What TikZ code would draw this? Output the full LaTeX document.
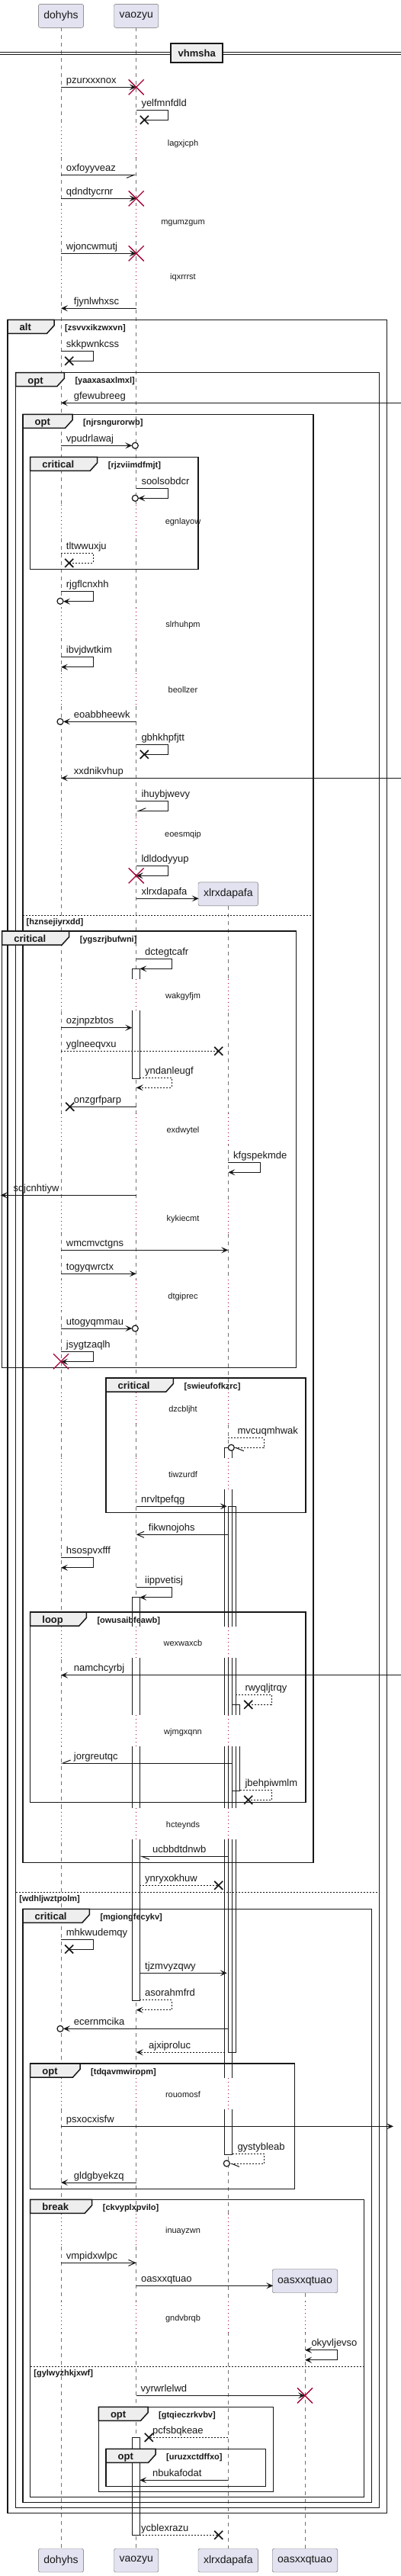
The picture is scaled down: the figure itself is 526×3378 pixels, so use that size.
\documentclass[tikz,border=0pt]{standalone}
\usepackage{fontspec}
\setmainfont{Liberation Sans}
\usepackage{tikz}
\definecolor{ink}{HTML}{181818}
\definecolor{partfill}{HTML}{E2E2F0}
\definecolor{tabfill}{HTML}{EEEEEE}
\definecolor{destroyred}{HTML}{A80036}
\colorlet{lifegray}{black!55}
\tikzset{>=latex}
\usetikzlibrary{arrows.meta}

\begin{document}
\begin{tikzpicture}[x=1pt, y=-1pt,
                line join=miter,
                part/.style={draw=black!60, fill=partfill, rounded corners=2.5pt, minimum height=31pt,
                             inner xsep=7pt, font=\fontsize{14}{16}\selectfont, text=ink},
                life/.style={lifegray, line width=0.6pt, dash pattern=on 5pt off 5pt},
                delayline/.style={destroyred, line width=0.8pt, dash pattern=on 1pt off 4pt},
                msg/.style={ink, line width=1pt},
                dsh/.style={dash pattern=on 2pt off 2pt},
                fa/.style={-{Stealth[length=9pt,width=8pt,inset=4pt]}},
                both/.style={{Stealth[length=9pt,width=8pt,inset=4pt]}-{Stealth[length=9pt,width=8pt,inset=4pt]}},
                op/.style={-{Straight Barb[length=9pt,width=8pt]}},
                halfa/.style={-{Straight Barb[harpoon,swap,length=10pt,width=8pt]}},
                halfb/.style={-{Straight Barb[harpoon,length=10pt,width=8pt]}},
                lbl/.style={anchor=base west, inner sep=0pt, font=\fontsize{13}{15}\selectfont, text=ink},
                delaylbl/.style={anchor=base, inner sep=0pt, font=\fontsize{11}{13}\selectfont, text=ink},
                frame/.style={draw=ink, line width=1.5pt},
                tablbl/.style={anchor=base west, inner sep=0pt, font=\bfseries\fontsize{13}{15}\selectfont, text=ink},
                condlbl/.style={anchor=base west, inner sep=0pt, font=\bfseries\fontsize{11}{13}\selectfont, text=ink},
                divbox/.style={draw=ink, line width=2pt, fill=tabfill, minimum width=67.7pt, minimum height=25pt,
                               font=\bfseries\fontsize{13}{15}\selectfont, text=ink}]
                \useasboundingbox (0,0) rectangle (526,3378);
                \def\xD{80}
                \def\xV{178.7}
                \def\xX{299.3}
                \def\xO{400}

                \def\sendmsg#1#2#3#4#5#6{ % style, from x, to x, y, label x, label
                    \draw[msg,#1] (#2,#4) -- (#3,#4);
                    \node[lbl] (m-#6) at (#5,#4-5) {#6};
                }
                \def\selfmsg#1#2#3#4#5#6#7{ % style, start x, end x, right x, top y, label x, label
                    \draw[msg,#1] (#2,#5) -- (#4,#5) -- (#4,#5+13) -- (#3,#5+13);
                    \node[lbl] (m-#7) at (#6,#5-5) {#7};
                }
                \def\mkdestroy#1#2{\draw[destroyred, line width=1.3pt] (#1-10,#2-10) -- (#1+10,#2+10) (#1-10,#2+10) -- (#1+10,#2-10);}
                \def\mklost#1#2{\draw[ink, line width=1.7pt] (#1-5.5,#2-5.5) -- (#1+5.5,#2+5.5) (#1-5.5,#2+5.5) -- (#1+5.5,#2-5.5);}
                \def\mkring#1#2{\draw[ink, line width=1.2pt, fill=white] (#1,#2) circle[radius=4];}
                \def\frm#1#2#3#4#5#6#7{ % x1, y1, x2, y2, tab right, kind, guard
                    \draw[frame] (#1,#2) rectangle (#3,#4);
                    \draw[frame, fill=tabfill] (#1,#2) -- (#5,#2) -- (#5,#2+7.5) -- (#5-9.5,#2+18) -- (#1,#2+18) -- cycle;
                    \node[tablbl] (f-#7) at (#1+15.5,#2+14.5) {#6};
                    \node[condlbl] (c-#7) at (#5+14,#2+14) {[#7]};
                }
                \def\elsediv#1#2#3#4{ % x1, x2, y, guard
                    \draw[ink, line width=0.8pt, dsh] (#1,#3) -- (#2,#3);
                    \node[condlbl] (e-#4) at (#1+4.5,#3+12) {[#4]};
                }

                % lifelines
                \foreach \lx/\ytop in {\xD/36.3, \xV/36.3, \xX/1188.3, \xO/3006.7}
                    \draw[life] (\lx,\ytop) -- (\lx,3341.7);

                % participants
                \foreach \pn/\lx in {dohyhs/\xD, vaozyu/\xV}
                    \node[part] (\pn-top) at (\lx,20.8) {\pn};
                \node[part] (xlrxdapafa-new) at (\xX,1172.3) {xlrxdapafa};
                \node[part] (oasxxqtuao-new) at (\xO,2991.2) {oasxxqtuao};
                \foreach \pn/\lx in {dohyhs/\xD, vaozyu/\xV, xlrxdapafa/\xX, oasxxqtuao/\xO}
                    \node[part] (\pn-bot) at (\lx,3357.5) {\pn};

                % activations
                \foreach \ax/\ya/\yb in {173.3/1270.3/1414.3, 173.3/2094.3/2623.3, 173.3/3196.3/3324.3,
                                         294.7/1898.3/2825, 299.3/1975.3/2691.3, 304.7/2235.3/2348.3}{
                    \fill[white] (\ax,\ya) rectangle (\ax+10,\yb);
                }
                \foreach \ax/\ya/\yb in {173.3/1270.3/1414.3, 173.3/2094.3/2623.3, 173.3/3196.3/3324.3,
                                         294.7/1898.3/2825, 299.3/1975.3/2691.3, 304.7/2235.3/2348.3}{
                    \draw[ink, line width=1pt] (\ax,\ya) rectangle (\ax+10,\yb);
                }

                % delays
                \foreach \ty/\txt/\nl in {187.3/lagxjcph/2, 290.3/mgumzgum/2, 362/iqxrrrst/2, 683.3/egnlayow/2,
                        818.3/slrhuhpm/2, 904/beollzer/2, 1093.3/eoesmqip/2, 1305/wakgyfjm/3, 1481.3/exdwytel/3,
                        1597.3/kykiecmt/3, 1699/dtgiprec/3, 1847/dzcbljht/3, 1933.3/tiwzurdf/3, 2154/wexwaxcb/3,
                        2270.3/wjmgxqnn/3, 2392/hcteynds/3, 2746.3/rouomosf/3, 2924/inuayzwn/3, 3039.3/gndvbrqb/4}{
                    \foreach \lx [count=\k] in {\xD,\xV,\xX,\xO}{
                        \ifnum\k>\nl\relax\else
                            \fill[white] (\lx-16,\ty-21) rectangle (\lx+16,\ty+20);
                            \draw[delayline] (\lx,\ty-21) -- (\lx,\ty+20);
                        \fi
                    }
                    \node[delaylbl] (d-\txt) at (240,\ty+4) {\txt};
                }

                % divider
                \draw[ink, line width=0.8pt] (0,68.7) -- (526,68.7) (0,71.3) -- (526,71.3);
                \node[divbox] (vhmsha) at (258.2,69.5) {vhmsha};

                % groups
                \frm{10}{419.3}{507.3}{3295.7}{71}{alt}{zsvvxikzwxvn}
                \frm{20.7}{488.7}{497.3}{3288.7}{84.3}{opt}{yaaxasaxlmxl}
                \frm{30}{543.3}{411}{2442.3}{95}{opt}{njrsngurorwb}
                \frm{39.7}{599.3}{260}{746.7}{127.7}{critical}{rjzviimdfmjt}
                \frm{2.7}{1221}{388.3}{1793.3}{90.7}{critical}{ygszrjbufwni}
                \frm{139}{1807}{401}{1983.3}{227.3}{critical}{swieufofkzrc}
                \frm{39.7}{2114}{401}{2363.7}{113.3}{loop}{owusaibfeawb}
                \frm{30}{2503.3}{487.7}{3281.3}{117.3}{critical}{mgiongfecykv}
                \frm{39.7}{2706}{386.7}{2870.7}{105}{opt}{tdqavmwiropm}
                \frm{39.7}{2884.3}{477.7}{3274.3}{120.7}{break}{ckvyplxpvilo}
                \frm{129.3}{3156.3}{358.3}{3267.3}{194}{opt}{gtqieczrkvbv}
                \frm{139}{3211.3}{348.3}{3260.7}{204}{opt}{uruzxctdffxo}
                \elsediv{30}{411}{1200.3}{hznsejiyrxdd}
                \elsediv{20.7}{497.3}{2481}{wdhljwztpolm}
                \elsediv{39.7}{477.7}{3103.3}{gylwyzhkjxwf}

                % messages
                \sendmsg{fa}{\xD}{\xV}{114.3}{86.7}{pzurxxxnox}
                \mkdestroy{\xV}{114.3}
                \selfmsg{}{\xV}{189.3}{220.3}{144.3}{185.3}{yelfmnfdld}
                \mklost{189.3}{157.3}
                \sendmsg{halfa}{\xD}{\xV}{229.3}{86.7}{oxfoyyveaz}
                \sendmsg{fa}{\xD}{\xV}{260.3}{86.7}{qdndtycrnr}
                \mkdestroy{\xV}{260.3}
                \sendmsg{fa}{\xD}{\xV}{332.3}{86.7}{wjoncwmutj}
                \mkdestroy{\xV}{332.3}
                \sendmsg{fa}{\xV}{\xD}{404.3}{96.7}{fjynlwhxsc}
                \selfmsg{}{\xD}{90.7}{122}{460.7}{86.7}{skkpwnkcss}
                \mklost{90.7}{473.3}
                \sendmsg{fa}{526}{\xD}{528.3}{96.7}{gfewubreeg}
                \sendmsg{fa}{\xD}{173.3}{584.3}{86.7}{vpudrlawaj}
                \mkring{177.3}{584.3}
                \selfmsg{fa}{\xV}{181.3}{220.3}{640.3}{185.3}{soolsobdcr}
                \mkring{177.3}{653.3}
                \selfmsg{dsh}{\xD}{90.7}{122}{725.3}{86.7}{tltwwuxju}
                \mklost{90.7}{738.3}
                \selfmsg{fa}{\xD}{83}{122}{775.7}{86.7}{rjgflcnxhh}
                \mkring{79}{788.3}
                \selfmsg{fa}{\xD}{\xD}{122}{861.7}{86.7}{ibvjdwtkim}
                \sendmsg{fa}{\xV}{83}{946.3}{96.7}{eoabbheewk}
                \mkring{79}{946.3}
                \selfmsg{}{\xV}{189.3}{220.3}{976.3}{185.3}{gbhkhpfjtt}
                \mklost{189.3}{989.3}
                \sendmsg{fa}{526}{\xD}{1020.3}{96.7}{xxdnikvhup}
                \selfmsg{halfa}{\xV}{\xV}{220.3}{1050.7}{185.3}{ihuybjwevy}
                \selfmsg{fa}{\xV}{\xV}{220.3}{1135.3}{185.3}{ldldodyyup}
                \mkdestroy{\xV}{1148.3}
                \sendmsg{fa}{\xV}{260.7}{1178.3}{185.3}{xlrxdapafa}
                \selfmsg{fa}{\xV}{183.3}{225.3}{1257.3}{190}{dctegtcafr}
                \sendmsg{fa}{\xD}{173.3}{1347.7}{86.7}{ozjnpzbtos}
                \sendmsg{dsh}{\xD}{286.7}{1378.3}{86.7}{yglneeqvxu}
                \mklost{286.7}{1378.3}
                \selfmsg{fa,dsh}{183.3}{\xV}{225.3}{1413.3}{190}{yndanleugf}
                \sendmsg{}{\xV}{91.7}{1451.3}{96.7}{onzgrfparp}
                \mklost{91.7}{1451.3}
                \selfmsg{fa}{\xX}{\xX}{341}{1524.3}{306}{kfgspekmde}
                \sendmsg{fa}{\xV}{0.7}{1567.3}{17.3}{sqjcnhtiyw}
                \sendmsg{fa}{\xD}{\xX}{1639.3}{86.7}{wmcmvctgns}
                \sendmsg{fa}{\xD}{\xV}{1670.3}{86.7}{togyqwrctx}
                \sendmsg{fa}{\xD}{173.3}{1742}{86.7}{utogyqmmau}
                \mkring{177.3}{1742}
                \selfmsg{fa}{\xD}{\xD}{122}{1772.7}{86.7}{jsygtzaqlh}
                \mkdestroy{\xD}{1785.3}
                \selfmsg{halfb,dsh}{\xX}{307.3}{346.3}{1885.7}{311.3}{mvcuqmhwak}
                \mkring{303.3}{1898.3}
                \sendmsg{fa}{\xV}{297.7}{1975.3}{185}{nrvltpefqg}
                \sendmsg{op}{\xX}{\xV}{2012.3}{194.7}{fikwnojohs}
                \selfmsg{fa}{\xD}{\xD}{122}{2042.7}{86.7}{hsospvxfff}
                \selfmsg{fa}{\xV}{183.3}{225.3}{2081.7}{190}{iippvetisj}
                \sendmsg{fa}{526}{\xD}{2196.7}{96.7}{namchcyrbj}
                \selfmsg{dsh}{309.3}{325.7}{356.3}{2222.3}{321.3}{rwyqljtrqy}
                \mklost{325.7}{2235.3}
                \sendmsg{halfa}{304.7}{\xD}{2312}{96.7}{jorgreutqc}
                \selfmsg{dsh}{314.7}{325.7}{356.3}{2347.3}{321.3}{jbehpiwmlm}
                \mklost{325.7}{2360.3}
                \sendmsg{halfb}{\xX}{183.3}{2434.3}{200}{ucbbdtdnwb}
                \sendmsg{dsh}{183.3}{286.7}{2472.3}{190}{ynryxokhuw}
                \mklost{286.7}{2472.3}
                \selfmsg{}{\xD}{90.7}{122}{2543.3}{86.7}{mhkwudemqy}
                \mklost{90.7}{2556}
                \sendmsg{fa}{183.3}{297.7}{2587.3}{190}{tjzmvyzqwy}
                \selfmsg{fa,dsh}{183.3}{\xV}{225.3}{2622.7}{190}{asorahmfrd}
                \sendmsg{fa}{\xX}{83}{2660.3}{96.7}{ecernmcika}
                \mkring{79}{2660.3}
                \sendmsg{fa,dsh}{294.7}{\xV}{2691.3}{195}{ajxiproluc}
                \sendmsg{fa}{\xD}{516}{2788.3}{86.7}{psxocxisfw}
                \selfmsg{halfb,dsh}{304.7}{301.3}{346.3}{2824.3}{311.3}{gystybleab}
                \mkring{297.3}{2837}
                \sendmsg{fa}{\xV}{\xD}{2862}{96.7}{gldgbyekzq}
                \sendmsg{op}{\xD}{\xV}{2967.3}{86.7}{vmpidxwlpc}
                \sendmsg{fa}{\xV}{358.3}{2997.3}{185}{oasxxqtuao}
                \selfmsg{both}{\xO}{\xO}{442.7}{3081.7}{408.3}{okyvljevso}
                \sendmsg{fa}{\xV}{\xO}{3141.3}{184.3}{vyrwrlelwd}
                \mkdestroy{\xO}{3141.3}
                \sendmsg{dsh}{\xX}{195.3}{3196.3}{200}{pcfsbqkeae}
                \mklost{195.3}{3196.3}
                \sendmsg{fa}{\xX}{183.3}{3252.3}{200}{nbukafodat}
                \sendmsg{dsh}{183.3}{286.7}{3324.3}{185}{ycblexrazu}
                \mklost{286.7}{3324.3}

            \end{tikzpicture}
\end{document}
